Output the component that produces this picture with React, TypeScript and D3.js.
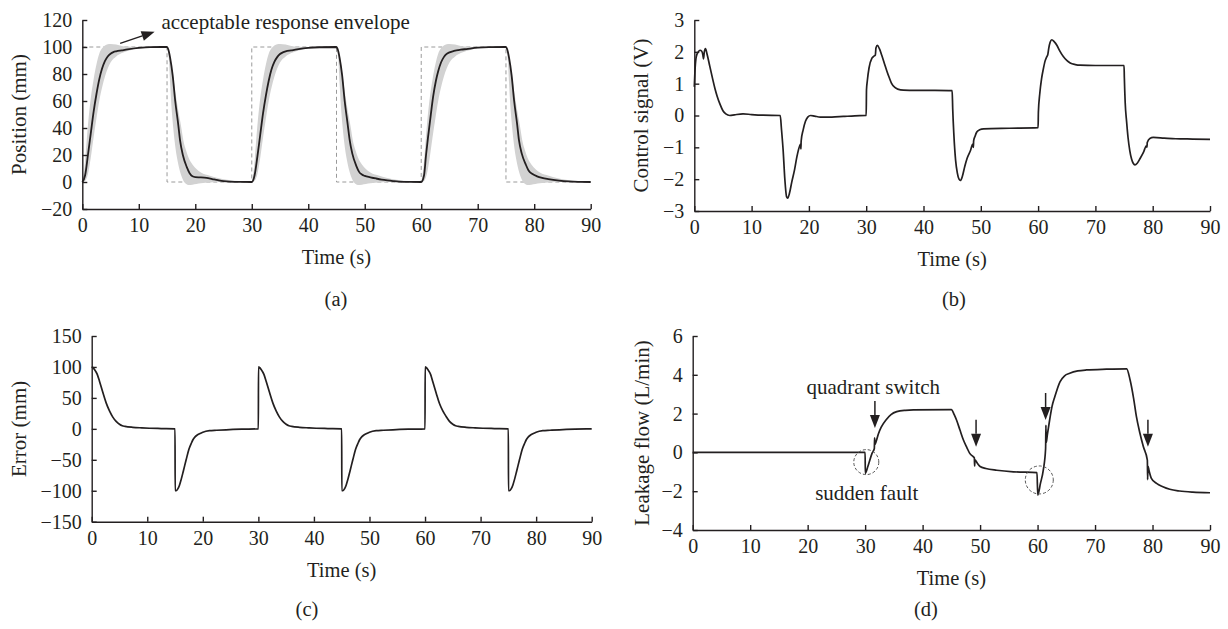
import * as d3 from "d3";
import React, { useEffect, useRef } from "react";

type Pt = [number, number];

// ticks
const timeTicks = [0, 10, 20, 30, 40, 50, 60, 70, 80, 90];
const positionTicks = [-20, 0, 20, 40, 60, 80, 100, 120];
const controlTicks = [-3, -2, -1, 0, 1, 2, 3];
const errorTicks = [-150, -100, -50, 0, 50, 100, 150];
const leakageTicks = [-4, -2, 0, 2, 4, 6];

// (a) reference square wave
const referenceSteps: Pt[] = [
  [0, 100], [15, 100], [15, 0], [30, 0], [30, 100], [45, 100], [45, 0],
  [60, 0], [60, 100], [75, 100], [75, 0], [90, 0],
];

// (a) acceptable envelope, same for every step (time from step start)
const cycleStarts = [0, 30, 60];
const envRiseT = [0, 0.4, 1, 1.5, 2, 2.5, 3, 3.5, 4, 4.5, 5, 6, 7, 8, 9, 10, 12, 15];
const envRiseHi = [0, 11, 42, 62, 76, 87, 95, 99, 101.2, 102, 102.3, 101.8, 100.8, 100.3, 100, 100, 100, 100];
const envRiseLo = [0, 0.5, 6, 18, 33, 47, 60, 70, 78, 84, 88.5, 93, 95.5, 97, 98.2, 99, 99.7, 100];
const envFallT = [0, 0.3, 0.55, 0.8, 1.1, 1.5, 2, 2.5, 2.9, 3.4, 3.8, 4.5, 5.2, 6, 7.6, 9, 10.6, 12, 13.5, 15];
const envFallHi = [100, 97.5, 92, 86, 77.5, 66, 52.8, 41, 30.6, 23, 18.2, 13, 9.6, 7, 4.7, 3, 1.7, 1, 0.5, 0];
const envFallLo = [100, 92, 73, 55, 40, 25, 13, 5, 1, -1.5, -2.2, -2, -1.5, -1, -0.4, 0, 0, 0, 0, 0];

// (a) measured position
const positionResp: Pt[] = [
  [0, 0], [0.5, 5], [1, 20], [1.5, 36], [2, 52], [2.5, 65], [3, 76], [3.5, 84], [4, 89.5], [4.5, 93],
  [5, 95], [5.5, 96.2], [6, 96.8], [7, 97.5], [8, 98.2], [10, 99.3], [12, 99.9], [15, 100],
  [15.2, 98.5], [15.55, 92], [16, 79], [16.45, 60], [17, 42], [17.3, 31], [17.8, 20], [18.5, 11],
  [19, 6.5], [19.5, 4.2], [20, 3.6], [21, 3.4], [22, 3], [23, 2.2], [24, 1.4], [25, 0.7], [26, 0.3],
  [28, 0.05], [30, 0],
  [30.5, 5], [31, 19], [31.5, 35], [32, 51], [32.5, 64], [33, 75], [33.5, 83.5], [34, 89], [34.5, 92.5],
  [35, 94.8], [35.5, 96], [36, 96.8], [37, 97.5], [38, 98.2], [40, 99.3], [42, 99.8], [45, 100],
  [45.2, 98.5], [45.55, 92], [46, 79], [46.45, 60], [47, 42], [47.3, 32], [47.8, 21], [48.5, 12],
  [49, 7.5], [49.5, 5.5], [50, 4.5], [51, 3.5], [52, 2.6], [53, 1.8], [54, 1.2], [55, 0.7], [56, 0.3],
  [58, 0.05], [60, 0],
  [60.5, 5], [60.85, 20], [61.2, 33], [61.7, 50], [62.1, 63], [62.6, 75], [63, 82], [63.5, 88.5],
  [64, 92.5], [64.4, 94.5], [65, 96], [65.8, 97.1], [67, 98], [68, 98.5], [70, 99.5], [72, 99.9], [75, 100],
  [75.2, 98.5], [75.55, 92], [76, 79], [76.45, 60], [77, 42], [77.3, 31], [77.8, 21], [78.5, 13],
  [79, 8.5], [79.7, 5.9], [80.5, 4.2], [81.4, 3], [82.5, 2.1], [84.4, 1], [86, 0.4], [88, 0.1], [90, 0],
];

// (b) control signal
const controlSignal: Pt[] = [
  [0, 0.9], [0.15, 1.5], [0.35, 1.85], [0.7, 2.0], [1.0, 2.05], [1.3, 2.02], [1.5, 1.9], [1.6, 1.78],
  [1.75, 2.0], [1.95, 2.1], [2.2, 1.95], [2.7, 1.55], [3.2, 1.15], [3.6, 0.85], [4.0, 0.6], [4.5, 0.35],
  [5.0, 0.15], [5.5, 0.05], [6.2, 0.0], [7, 0.02], [8.5, 0.05], [10, 0.03], [12, 0.01], [15, 0],
  [15.2, -0.4], [15.5, -1.08], [15.8, -2.0], [16.1, -2.55], [16.3, -2.6], [16.6, -2.45], [17, -2.1],
  [17.5, -1.7], [17.9, -1.3], [18.4, -0.95], [18.55, -0.9], [18.6, -1.05], [18.65, -0.8], [19, -0.45],
  [19.4, -0.18], [19.8, -0.05], [20.3, 0.0], [21, -0.02], [22, -0.05], [24, -0.05], [26, -0.03],
  [28, -0.01], [30, 0],
  [30.05, 0.8], [30.2, 1.1], [30.5, 1.5], [31, 1.8], [31.4, 1.87], [31.6, 1.9], [31.7, 2.12], [31.95, 2.2],
  [32.3, 2.1], [32.7, 1.9], [33.2, 1.62], [33.6, 1.4], [34.0, 1.2], [34.4, 1.02], [35, 0.88], [35.5, 0.83],
  [36.5, 0.8], [40, 0.79], [45, 0.78],
  [45.1, 0.2], [45.3, -0.6], [45.6, -1.4], [45.9, -1.8], [46.2, -2.0], [46.45, -2.04], [46.8, -1.9],
  [47.2, -1.6], [47.6, -1.35], [48.2, -1.1], [48.6, -0.9], [48.7, -1.0], [48.75, -0.8], [49.0, -0.65],
  [49.3, -0.52], [49.8, -0.45], [50.5, -0.42], [55, -0.4], [60, -0.38],
  [60.05, 0.1], [60.3, 0.7], [60.6, 1.15], [60.9, 1.45], [61.2, 1.7], [61.5, 1.84], [61.7, 1.92],
  [61.85, 2.1], [62.1, 2.3], [62.4, 2.38], [62.8, 2.32], [63.3, 2.2], [63.8, 2.02], [64.4, 1.85],
  [65, 1.73], [65.6, 1.65], [66.5, 1.6], [67.3, 1.58], [70, 1.57], [75, 1.57],
  [75.05, 1.2], [75.2, 0.4], [75.45, -0.2], [75.7, -0.7], [76, -1.1], [76.3, -1.36], [76.6, -1.5],
  [76.9, -1.55], [77.3, -1.5], [77.8, -1.35], [78.4, -1.15], [78.9, -0.95], [79.0, -1.0], [79.05, -0.85],
  [79.5, -0.72], [80.1, -0.69], [82, -0.71], [84, -0.73], [87, -0.74], [90, -0.75],
];

// (c) tracking error
const errorSignal: Pt[] = [
  [0, 100], [0.15, 99.5], [0.5, 96], [1, 88], [1.4, 77], [2, 59], [2.6, 42], [3.2, 29], [3.8, 19],
  [4.4, 12], [5, 7.4], [5.5, 5], [6, 4], [7.4, 2.5], [9, 1.6], [10.4, 1], [12.5, 0.5], [15, 0],
  [15.02, -100], [15.2, -100], [15.5, -97], [15.8, -91], [16.1, -82], [16.5, -68], [17, -50], [17.5, -33],
  [18, -22], [18.2, -18], [18.6, -13], [19, -10], [19.4, -8], [20, -5.5], [21.2, -3], [22.5, -2.3],
  [24.2, -1.5], [27, -0.6], [30, 0],
  [30.02, 100], [30.15, 99.5], [30.5, 96], [31, 88], [31.4, 77], [32, 59], [32.6, 42], [33.2, 29],
  [33.8, 19], [34.4, 12], [35, 7.4], [35.5, 5], [36, 4], [37.4, 2.5], [39, 1.6], [40.4, 1], [42.5, 0.5],
  [45, 0],
  [45.02, -100], [45.2, -100], [45.5, -97], [45.8, -91], [46.1, -82], [46.5, -68], [47, -50], [47.5, -33],
  [48, -22], [48.2, -18], [48.6, -13], [49, -10], [49.4, -8], [50, -5.5], [51.2, -3], [52.5, -2.3],
  [54.2, -1.5], [57, -0.6], [60, 0],
  [60.02, 100], [60.15, 99.5], [60.5, 96], [61, 88], [61.4, 76], [62, 58], [62.6, 41], [63.2, 29],
  [63.8, 20], [64.4, 12], [65, 7.4], [65.5, 5], [66, 4], [67.4, 2.5], [69, 1.6], [70.4, 1], [72.5, 0.5],
  [75, 0],
  [75.02, -100], [75.2, -100], [75.5, -97], [75.8, -91], [76.1, -82], [76.5, -68], [77, -50], [77.5, -33],
  [78, -22], [78.2, -18], [78.6, -13], [79, -10], [79.4, -8], [80, -5.5], [81.2, -3], [82.5, -2.3],
  [84.2, -1.5], [87, -0.6], [90, 0],
];

// (d) estimated leakage flow
const leakageFlow: Pt[] = [
  [0, 0], [30, 0], [30.03, -1.08], [30.5, -0.7], [31.2, -0.05], [31.6, 0.2], [31.65, 0.75], [31.7, 0.4],
  [31.9, 0.55], [32.3, 0.95], [32.8, 1.3], [33.7, 1.7], [34.5, 1.95], [35.5, 2.1], [37, 2.17],
  [38.4, 2.19], [45, 2.2],
  [45.5, 1.95], [45.9, 1.67], [46.5, 1.15], [47.1, 0.64], [47.7, 0.25], [48.2, -0.05], [48.8, -0.22],
  [49.0, -0.28], [49.05, -0.7], [49.1, -0.38], [49.5, -0.55], [50, -0.73], [51, -0.83], [52.9, -0.92],
  [55.8, -1.0], [59.9, -1.04],
  [60.03, -2.2], [60.5, -1.6], [61.0, -0.9], [61.4, 0.2], [61.45, 1.4], [61.5, 0.5], [61.7, 0.9],
  [62.1, 1.67], [62.5, 2.35], [63, 2.87], [63.9, 3.64], [64.7, 3.95], [65.6, 4.08], [67, 4.2],
  [68.5, 4.25], [72, 4.29], [75.5, 4.31],
  [76.1, 3.73], [76.7, 2.8], [77.2, 1.84], [77.8, 1.0], [78.4, 0.3], [79.1, -0.4], [79.15, -1.4],
  [79.2, -0.7], [79.4, -0.95], [79.8, -1.34], [80.7, -1.6], [81.8, -1.77], [83, -1.9], [84.7, -1.99],
  [87, -2.05], [90, -2.08],
];

// (d) annotations (data coordinates)
const quadrantSwitchTips: Pt[] = [[31.7, 1.26], [49.3, 0.29], [61.4, 1.67], [79.2, 0.29]];
const suddenFaults: Pt[] = [[30.2, -0.5], [60.3, -1.42]];

const W = 1228;
const H = 629;
const ink = "#231f20";
const serif = '"Liberation Serif", "Times New Roman", serif';
const tickFmt = d3.format("d");

const panels = [
  { id: "a", left: 82.3, right: 590.7, top: 20, bottom: 209, yDomain: [-20, 120], yTicks: positionTicks,
    yLabel: "Position (mm)", yLabelX: 19, letter: "(a)", letterX: 336, letterY: 299, xLabelY: 257 },
  { id: "b", left: 694.3, right: 1210, top: 20, bottom: 211, yDomain: [-3, 3], yTicks: controlTicks,
    yLabel: "Control signal (V)", yLabelX: 641, letter: "(b)", letterX: 954, letterY: 299, xLabelY: 259 },
  { id: "c", left: 91.7, right: 591.7, top: 336, bottom: 521.7, yDomain: [-150, 150], yTicks: errorTicks,
    yLabel: "Error (mm)", yLabelX: 19, letter: "(c)", letterX: 307, letterY: 609, xLabelY: 570 },
  { id: "d", left: 692.7, right: 1210, top: 336, bottom: 530, yDomain: [-4, 6], yTicks: leakageTicks,
    yLabel: "Leakage flow (L/min)", yLabelX: 642, letter: "(d)", letterX: 926, letterY: 609, xLabelY: 578 },
];

type Panel = (typeof panels)[number];
type Sel = d3.Selection<SVGSVGElement, unknown, null, undefined>;

function arrow(g: any, x1: number, y1: number, x2: number, y2: number) {
  const a = Math.atan2(y2 - y1, x2 - x1);
  const len = 13;
  const hw = 5;
  const bx = x2 - len * Math.cos(a);
  const by = y2 - len * Math.sin(a);
  g.append("line").attr("x1", x1).attr("y1", y1).attr("x2", bx).attr("y2", by)
    .attr("stroke", ink).attr("stroke-width", 1.5);
  g.append("path")
    .attr("d", `M${x2},${y2}L${bx + hw * Math.sin(a)},${by - hw * Math.cos(a)}L${bx - hw * Math.sin(a)},${by + hw * Math.cos(a)}Z`)
    .attr("fill", ink);
}

function drawPanel(svg: Sel, p: Panel) {
  const x = d3.scaleLinear().domain([0, 90]).range([p.left, p.right]);
  const y = d3.scaleLinear().domain(p.yDomain).range([p.bottom, p.top]);
  const g = svg.append("g");
  const line = d3.line<Pt>().x((d) => x(d[0])).y((d) => y(d[1])).curve(d3.curveMonotoneX);

  // marks
  if (p.id === "a") {
    g.append("path")
      .attr("d", d3.line<Pt>().x((d) => x(d[0])).y((d) => y(d[1]))(referenceSteps))
      .attr("fill", "none").attr("stroke", "#9a9a9a").attr("stroke-width", 1).attr("stroke-dasharray", "4,3");
    const area = d3.area<{ t: number; hi: number; lo: number }>()
      .x((d) => x(d.t)).y0((d) => y(d.lo)).y1((d) => y(d.hi)).curve(d3.curveMonotoneX);
    cycleStarts.forEach((c) => {
      g.append("path")
        .attr("d", area(envRiseT.map((t, i) => ({ t: c + t, hi: envRiseHi[i], lo: envRiseLo[i] }))))
        .attr("fill", "#d2d2d2");
      g.append("path")
        .attr("d", area(envFallT.map((t, i) => ({ t: c + 15 + t, hi: envFallHi[i], lo: envFallLo[i] }))))
        .attr("fill", "#d2d2d2");
    });
    g.append("path").attr("d", line(positionResp))
      .attr("fill", "none").attr("stroke", ink).attr("stroke-width", 1.8);
    arrow(g, x(6.7), y(102.7), x(12.8), y(111.3));
    g.append("text").attr("x", x(14.0)).attr("y", y(113.6)).text("acceptable response envelope")
      .attr("fill", ink).style("font-family", serif).style("font-size", "21px");
  }
  if (p.id === "b") {
    g.append("path").attr("d", line(controlSignal))
      .attr("fill", "none").attr("stroke", ink).attr("stroke-width", 1.7);
  }
  if (p.id === "c") {
    g.append("path").attr("d", line(errorSignal))
      .attr("fill", "none").attr("stroke", ink).attr("stroke-width", 1.7);
  }
  if (p.id === "d") {
    g.append("path").attr("d", line(leakageFlow))
      .attr("fill", "none").attr("stroke", ink).attr("stroke-width", 1.7);
    suddenFaults.forEach((d, i) => {
      g.append("circle").attr("cx", x(d[0])).attr("cy", y(d[1])).attr("r", i === 0 ? 12.5 : 14)
        .attr("fill", "none").attr("stroke", "#555").attr("stroke-width", 1).attr("stroke-dasharray", "3,2");
    });
    quadrantSwitchTips.forEach((d) => {
      arrow(g, x(d[0]), y(d[1]) - 27, x(d[0]), y(d[1]));
    });
    g.append("text").attr("x", x(19.8)).attr("y", y(3.03)).text("quadrant switch")
      .attr("fill", ink).style("font-family", serif).style("font-size", "21px");
    g.append("text").attr("x", x(21.3)).attr("y", y(-2.45)).text("sudden fault")
      .attr("fill", ink).style("font-family", serif).style("font-size", "21px");
  }

  // axes
  const xAxis = d3.axisBottom(x).tickValues(timeTicks).tickFormat(tickFmt as any)
    .tickSizeInner(-5).tickSizeOuter(0).tickPadding(9);
  const yAxis = d3.axisLeft(y).tickValues(p.yTicks).tickFormat(tickFmt as any)
    .tickSizeInner(-5).tickSizeOuter(0).tickPadding(10);
  const gx = svg.append("g").attr("transform", `translate(0,${p.bottom})`).call(xAxis);
  const gy = svg.append("g").attr("transform", `translate(${p.left},0)`).call(yAxis);
  [gx, gy].forEach((ag) => {
    ag.selectAll("path, line").attr("stroke", ink).attr("stroke-width", 1.4);
    ag.selectAll("text").attr("fill", ink).style("font-family", serif).style("font-size", "20px");
  });

  // labels
  svg.append("text").attr("x", (p.left + p.right) / 2).attr("y", p.xLabelY)
    .attr("text-anchor", "middle").attr("dominant-baseline", "central")
    .attr("fill", ink).style("font-family", serif).style("font-size", "20.5px").text("Time (s)");
  svg.append("text")
    .attr("transform", `translate(${p.yLabelX},${(p.top + p.bottom) / 2}) rotate(-90)`)
    .attr("text-anchor", "middle").attr("dominant-baseline", "central")
    .attr("fill", ink).style("font-family", serif).style("font-size", "21px").text(p.yLabel);
  svg.append("text").attr("x", p.letterX).attr("y", p.letterY)
    .attr("text-anchor", "middle").attr("dominant-baseline", "central")
    .attr("fill", ink).style("font-family", serif).style("font-size", "20.5px").text(p.letter);
}

export default function App() {
  const svgRef = useRef<SVGSVGElement>(null);

  useEffect(() => {
    const svg = d3.select(svgRef.current as SVGSVGElement) as unknown as Sel;
    svg.selectAll("*").remove();
    panels.forEach((p) => drawPanel(svg, p));
  }, []);

  return (
    <svg
      ref={svgRef}
      width={W}
      height={H}
      style={{ position: "absolute", left: 0, top: 0, background: "#fff" }}
    />
  );
}
